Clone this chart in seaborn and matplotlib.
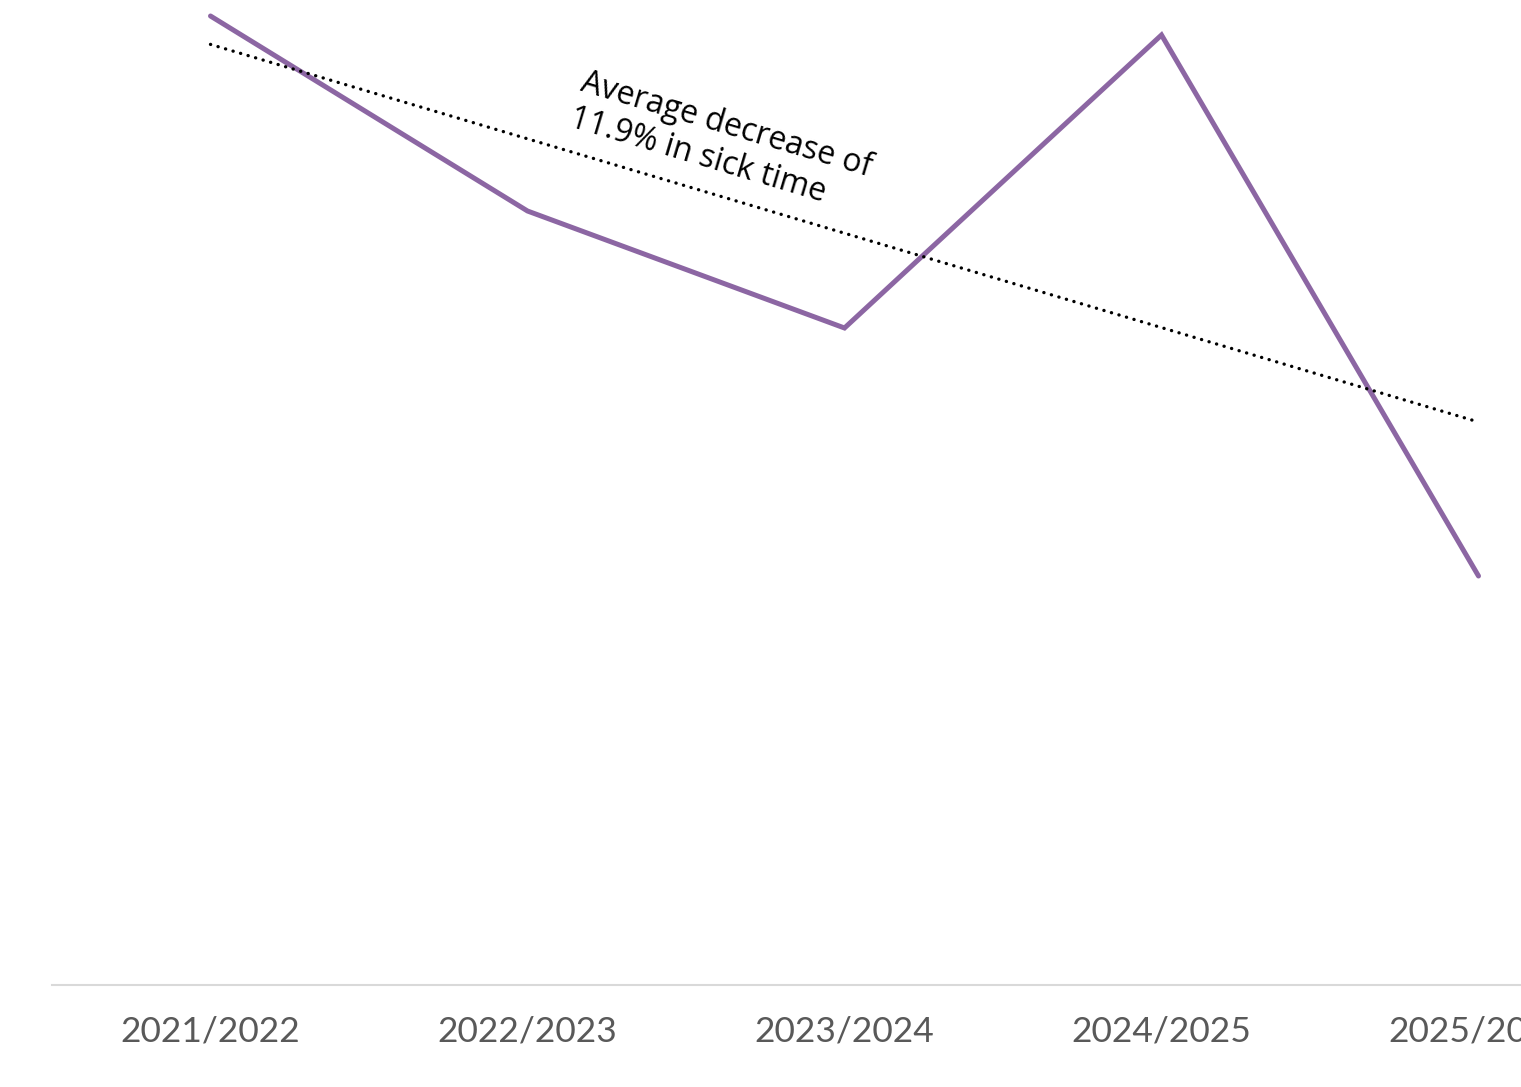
import numpy as np
import pandas as pd
import matplotlib
matplotlib.use("Agg")
import matplotlib.pyplot as plt
import seaborn as sns

# Sick time per academic year
years = ["2021/2022", "2022/2023", "2023/2024", "2024/2025", "2025/2026"]
sick_time = [9.69, 7.74, 6.57, 9.50, 4.09]

annotation = "Average decrease of\n11.9% in sick time"

df = pd.DataFrame({"year": years, "sick_time": sick_time})
df["pos"] = np.arange(len(years))

# Least-squares trend through the yearly values
slope, intercept = np.polyfit(df["pos"], df["sick_time"], 1)
df["trend"] = intercept + slope * df["pos"]

sns.set_theme(style="white")
plt.rcParams["font.family"] = ["Lato", "DejaVu Sans"]

W, H = 1521, 1087
fig = plt.figure(figsize=(W / 100, H / 100), dpi=100)
step = 317
left_px, bottom_px, top_px = 52, 102, 0
ax = fig.add_axes([left_px / W, bottom_px / H, 5 * step / W, (H - bottom_px - top_px) / H])

sns.lineplot(data=df, x="pos", y="sick_time", ax=ax, color="#8C66A3",
             linewidth=3.6, solid_capstyle="round", solid_joinstyle="miter", clip_on=False)
sns.lineplot(data=df, x="pos", y="trend", ax=ax, color="black",
             linewidth=2.4, linestyle=(0, (0.05, 2.3)), dash_capstyle="round", clip_on=False)

ax.set_xlim(-0.5, 4.5)
ax.set_ylim(0, 9.85)
ax.set_xticks(df["pos"])
ax.set_xticklabels(years)
ax.set_yticks([])
ax.set_xlabel("")
ax.set_ylabel("")
ax.tick_params(axis="x", length=0, pad=22, labelsize=25.5, labelcolor="#595959")

for side in ["top", "right", "left"]:
    ax.spines[side].set_visible(False)
ax.spines["bottom"].set_color("#D9D9D9")
ax.spines["bottom"].set_linewidth(1.5)

# Label laid along the trend line
angle = np.degrees(np.arctan2(slope * 100, step))
ax.text(1.61, 8.42, annotation, rotation=angle, rotation_mode="anchor",
        ha="center", va="center", multialignment="left",
        fontsize=23, family=["Open Sans", "DejaVu Sans"], fontweight="normal",
        color="black", linespacing=1.2)

fig.savefig("out.png", dpi=100)
